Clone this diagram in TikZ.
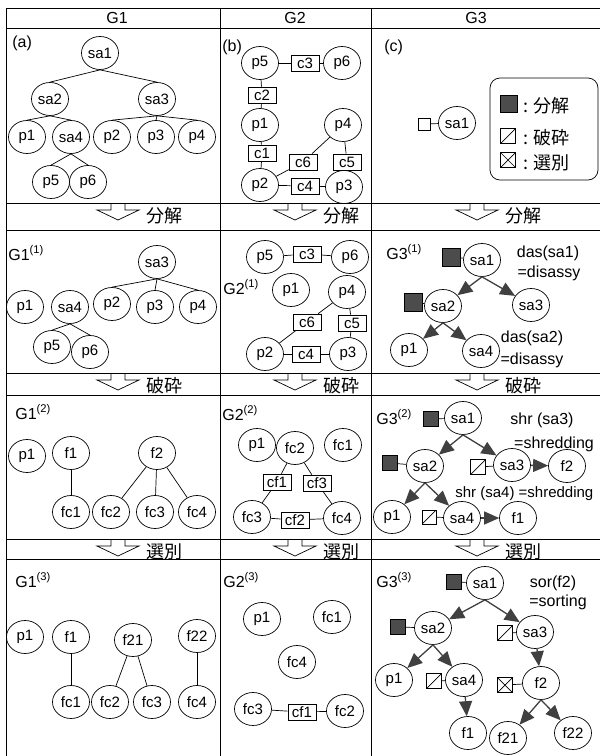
\documentclass[tikz,border=0pt]{standalone}
\usepackage{fontspec}
\setmainfont{Liberation Sans}
\newfontfamily\jpfont{Noto Sans CJK JP}
\usetikzlibrary{arrows.meta,shapes.geometric}

\tikzset{
  comp/.style={draw,ellipse,minimum width=37pt,minimum height=33pt,inner sep=0pt,font=\fontsize{15}{15}\selectfont},
  cbox/.style={draw,minimum width=28pt,minimum height=16pt,inner sep=1pt,font=\fontsize{15}{15}\selectfont},
  lab/.style={inner sep=0pt,font=\fontsize{16}{16}\selectfont},
  jlab/.style={inner sep=0pt,font=\jpfont\fontsize{18}{18}\selectfont},
  sqfill/.style={draw,fill=black!70,minimum size=15pt,inner sep=0pt},
  sqopen/.style={draw,minimum size=12pt,inner sep=0pt},
  sqslash/.style={draw,minimum size=15pt,inner sep=0pt,
    path picture={\draw (path picture bounding box.south west) -- (path picture bounding box.north east);}},
  sqcross/.style={draw,minimum size=15pt,inner sep=0pt,
    path picture={\draw (path picture bounding box.south west) -- (path picture bounding box.north east)
      (path picture bounding box.north west) -- (path picture bounding box.south east);}},
  oparrow/.style={draw=black!75,fill=black!75,line width=1.3pt,-{Triangle[length=15pt,width=13pt]}}
}

\begin{document}
\begin{tikzpicture}[x=1pt,y=-1pt,line width=0.7pt]
\useasboundingbox (0,0) rectangle (600,756);

\foreach \y in {8,28,203,230,373,395,539,559}
  \draw (6,\y) -- (600,\y);
\foreach \x in {6,220,371}
  \draw (\x,8) -- (\x,756);

\node[lab] (hg1) at (117,18) {G1};
\node[lab] (hg2) at (295,18) {G2};
\node[lab] (hg3) at (476,18) {G3};

\foreach \yb/\txt in {203/分解,373/破砕,539/選別}
  \foreach \xa in {118,295,477}
  {
    \draw (\xa-7,\yb) -- (\xa-7,\yb+7) -- (\xa-21,\yb+7) -- (\xa,\yb+17)
      -- (\xa+21,\yb+7) -- (\xa+7,\yb+7) -- (\xa+7,\yb);
    \node[jlab] (op\yb-\xa) at (\xa+46,\yb+13) {\txt};
  }

% (a)
\node[lab,anchor=west] (alab) at (12,43) {(a)};
\node[comp] (asa1) at (100,53) {sa1};
\node[comp] (asa2) at (50,99) {sa2};
\node[comp] (asa3) at (157,99) {sa3};
\node[comp] (ap1) at (27,137) {p1};
\node[comp] (asa4) at (71,137) {sa4};
\node[comp] (ap2) at (112,137) {p2};
\node[comp] (ap3) at (156,137) {p3};
\node[comp] (ap4) at (197,137) {p4};
\node[comp] (ap5) at (51,182) {p5};
\node[comp] (ap6) at (88,182) {p6};
\foreach \u/\v in {asa1/asa2,asa1/asa3,asa2/ap1,asa2/asa4,asa3/ap2,asa3/ap3,asa3/ap4,asa4/ap5,asa4/ap6}
  \draw (\u.south) -- (\v.north);

% (b)
\node[lab,anchor=west] (blab) at (222,47) {(b)};
\node[comp] (bp5) at (260,63) {p5};
\node[cbox] (bc3) at (305,63) {c3};
\node[comp] (bp6) at (342,63) {p6};
\node[cbox] (bc2) at (262,95) {c2};
\node[comp] (bp1) at (260,125) {p1};
\node[comp] (bp4) at (343,125) {p4};
\node[cbox] (bc1) at (262,153) {c1};
\node[cbox] (bc6) at (303,162) {c6};
\node[cbox] (bc5) at (347,162) {c5};
\node[comp] (bp2) at (260,185) {p2};
\node[cbox] (bc4) at (305,186) {c4};
\node[comp] (bp3) at (344,187) {p3};
\foreach \u/\v in {bp5/bc3,bc3/bp6,bp5/bc2,bc2/bp1,bp1/bc1,bc1/bp2,bp2/bc6,bc6/bp4,bp4/bc5,bc5/bp3,bp2/bc4,bc4/bp3}
  \draw (\u) -- (\v);

% (c)
\node[lab,anchor=west] (clab) at (384,47) {(c)};
\node[sqopen] (csq) at (424,124) {};
\node[comp] (csa1) at (457,123) {sa1};
\draw (csq) -- (csa1);
\draw[rounded corners=10pt] (490,78) rectangle (598,180);
\node[sqfill,minimum size=17pt] (cl1) at (509,104) {};
\node[sqslash] (cl2) at (508,136) {};
\node[sqcross] (cl3) at (508,160) {};
\node[jlab,anchor=west] (ct1) at (523,106) {: 分解};
\node[jlab,anchor=west] (ct2) at (523,138) {: 破砕};
\node[jlab,anchor=west] (ct3) at (523,163) {: 選別};

% G1(1)
\node[lab,anchor=west] (dlab) at (8,253) {G1\textsuperscript{(1)}};
\node[comp] (dsa3) at (157,262) {sa3};
\node[comp] (dp1) at (25,307) {p1};
\node[comp] (dsa4) at (70,307) {sa4};
\node[comp] (dp2) at (112,304) {p2};
\node[comp] (dp3) at (155,307) {p3};
\node[comp] (dp4) at (198,307) {p4};
\node[comp] (dp5) at (52,347) {p5};
\node[comp] (dp6) at (90,352) {p6};
\foreach \u/\v in {dsa3/dp2,dsa3/dp3,dsa3/dp4,dsa4/dp5,dsa4/dp6}
  \draw (\u.south) -- (\v.north);

% G2(1)
\node[lab,anchor=west] (elab) at (223,287) {G2\textsuperscript{(1)}};
\node[comp] (ep5) at (265,257) {p5};
\node[cbox] (ec3) at (307,254) {c3};
\node[comp] (ep6) at (350,257) {p6};
\node[comp] (ep1) at (291,290) {p1};
\node[comp] (ep4) at (347,292) {p4};
\node[cbox] (ec6) at (307,322) {c6};
\node[cbox] (ec5) at (352,323) {c5};
\node[comp] (ep2) at (265,354) {p2};
\node[cbox] (ec4) at (306,354) {c4};
\node[comp] (ep3) at (348,354) {p3};
\foreach \u/\v in {ep5/ec3,ec3/ep6,ep2/ec6,ec6/ep4,ep4/ec5,ec5/ep3,ep2/ec4,ec4/ep3}
  \draw (\u) -- (\v);

% G3(1)
\node[lab,anchor=west] (flab) at (386,252) {G3\textsuperscript{(1)}};
\node[sqfill,minimum size=18pt] (fsq1) at (451,257) {};
\node[comp] (fsa1) at (482,260) {sa1};
\node[sqfill,minimum size=18pt] (fsq2) at (413,302) {};
\node[comp] (fsa2) at (443,306) {sa2};
\node[comp] (fsa3) at (531,305) {sa3};
\node[comp] (fp1) at (409,350) {p1};
\node[comp] (fsa4) at (481,351) {sa4};
\node[lab] (fdas1) at (548,253) {das(sa1)};
\node[lab] (fdis1) at (549,273) {=disassy};
\node[lab] (fdas2) at (532,338) {das(sa2)};
\node[lab] (fdis2) at (532,360) {=disassy};
\draw (fsq1) -- (fsa1);
\draw (fsq2) -- (fsa2);
\foreach \u/\v in {fsa1/fsa2,fsa1/fsa3,fsa2/fp1,fsa2/fsa4}
  \draw[oparrow] (\u.south) -- (\v);

% G1(2)
\node[lab,anchor=west] (glab) at (15,412) {G1\textsuperscript{(2)}};
\node[comp] (gp1) at (27,456) {p1};
\node[comp] (gf1) at (71,453) {f1};
\node[comp] (gf2) at (157,453) {f2};
\node[comp] (gfc1) at (71,512) {fc1};
\node[comp] (gfc2) at (111,512) {fc2};
\node[comp] (gfc3) at (155,512) {fc3};
\node[comp] (gfc4) at (197,512) {fc4};
\foreach \u/\v in {gf1/gfc1,gf2/gfc2,gf2/gfc3,gf2/gfc4}
  \draw (\u) -- (\v);

% G2(2)
\node[lab,anchor=west] (hlab) at (222,413) {G2\textsuperscript{(2)}};
\node[comp] (hp1) at (257,445) {p1};
\node[comp] (hfc2) at (295,448) {fc2};
\node[comp] (hfc1) at (343,445) {fc1};
\node[cbox] (hcf1) at (277,482) {cf1};
\node[cbox] (hcf3) at (317,483) {cf3};
\node[comp] (hfc3) at (252,517) {fc3};
\node[cbox] (hcf2) at (295,520) {cf2};
\node[comp] (hfc4) at (342,518) {fc4};
\foreach \u/\v in {hfc2/hcf1,hcf1/hfc3,hfc2/hcf3,hcf3/hfc4,hfc3/hcf2,hcf2/hfc4}
  \draw (\u) -- (\v);

% G3(2)
\node[lab,anchor=west] (ilab) at (376,417) {G3\textsuperscript{(2)}};
\node[sqfill] (isq1) at (431,419) {};
\node[comp] (isa1) at (463,418) {sa1};
\node[lab] (ishr1) at (542,420) {shr (sa3)};
\node[lab] (ishd1) at (554,444) {=shredding};
\node[sqfill] (isq2) at (390,463) {};
\node[comp] (isa2) at (425,466) {sa2};
\node[sqslash] (isq3) at (478,467) {};
\node[comp] (isa3) at (512,465) {sa3};
\node[comp] (if2) at (567,466) {f2};
\node[lab,anchor=west,font=\fontsize{15}{15}\selectfont] (ishr2) at (455,494) {shr (sa4) =shredding};
\node[comp] (ip1) at (392,517) {p1};
\node[sqslash,minimum size=14pt] (isq4) at (429,517) {};
\node[comp] (isa4) at (462,518) {sa4};
\node[comp] (if1) at (518,518) {f1};
\foreach \u/\v in {isq1/isa1,isq2/isa2,isq3/isa3,isq4/isa4}
  \draw (\u) -- (\v);
\foreach \u/\v in {isa1/isa2,isa1/isa3,isa2/ip1,isa2/isa4}
  \draw[oparrow] (\u.south) -- (\v);
\draw[oparrow] (isa3) -- (if2);
\draw[oparrow] (isa4) -- (if1);

% G1(3)
\node[lab,anchor=west] (jlab) at (15,580) {G1\textsuperscript{(3)}};
\node[comp] (jp1) at (25,637) {p1};
\node[comp] (jf1) at (71,637) {f1};
\node[comp] (jf21) at (133,640) {f21};
\node[comp] (jf22) at (197,636) {f22};
\node[comp] (jfc1) at (71,702) {fc1};
\node[comp] (jfc2) at (110,702) {fc2};
\node[comp] (jfc3) at (152,702) {fc3};
\node[comp] (jfc4) at (197,702) {fc4};
\foreach \u/\v in {jf1/jfc1,jf21/jfc2,jf21/jfc3,jf22/jfc4}
  \draw (\u) -- (\v);

% G2(3)
\node[lab,anchor=west] (klab) at (223,580) {G2\textsuperscript{(3)}};
\node[comp] (kp1) at (262,619) {p1};
\node[comp] (kfc1) at (332,617) {fc1};
\node[comp] (kfc4) at (297,662) {fc4};
\node[comp] (kfc3) at (253,709) {fc3};
\node[cbox] (kcf1) at (302,712) {cf1};
\node[comp] (kfc2) at (345,711) {fc2};
\draw (kfc3) -- (kcf1) -- (kfc2);

% G3(3)
\node[lab,anchor=west] (llab) at (376,580) {G3\textsuperscript{(3)}};
\node[sqfill] (lsq1) at (454,582) {};
\node[comp] (lsa1) at (485,583) {sa1};
\node[lab] (lsor) at (553,583) {sor(f2)};
\node[lab] (lsrt) at (558,602) {=sorting};
\node[sqfill] (lsq2) at (398,627) {};
\node[comp] (lsa2) at (433,628) {sa2};
\node[sqslash] (lsq3) at (505,633) {};
\node[comp] (lsa3) at (535,632) {sa3};
\node[comp] (lp1) at (394,680) {p1};
\node[sqslash] (lsq4) at (434,681) {};
\node[comp] (lsa4) at (464,680) {sa4};
\node[sqcross] (lsq5) at (505,685) {};
\node[comp] (lf2) at (541,683) {f2};
\node[comp] (lf1) at (468,733) {f1};
\node[comp] (lf21) at (508,738) {f21};
\node[comp] (lf22) at (573,733) {f22};
\foreach \u/\v in {lsq1/lsa1,lsq2/lsa2,lsq3/lsa3,lsq4/lsa4,lsq5/lf2}
  \draw (\u) -- (\v);
\foreach \u/\v in {lsa1/lsa2,lsa1/lsa3,lsa2/lp1,lsa2/lsa4,lf2/lf21,lf2/lf22}
  \draw[oparrow] (\u.south) -- (\v);
\draw[oparrow] (lsa3) -- (lf2);
\draw[oparrow] (lsa4) -- (lf1);
\end{tikzpicture}
\end{document}
